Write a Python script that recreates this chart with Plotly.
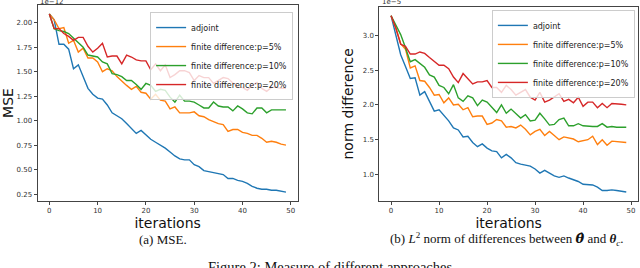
import plotly.graph_objects as go

iterations = list(range(50))

# Left panel: MSE (units of 1e-12)
mse_adjoint = [2.09, 2.03, 1.78, 1.78, 1.73, 1.53, 1.57, 1.44, 1.33, 1.27,
               1.23, 1.22, 1.16, 1.08, 1.05, 1.02, 0.97, 0.92, 0.87, 0.90,
               0.85, 0.81, 0.78, 0.75, 0.72, 0.68, 0.64, 0.61, 0.60, 0.60,
               0.55, 0.53, 0.49, 0.48, 0.47, 0.46, 0.45, 0.41, 0.41, 0.39,
               0.38, 0.36, 0.33, 0.31, 0.30, 0.30, 0.29, 0.29, 0.28, 0.27]
mse_fd5 = [2.09, 2.03, 1.94, 1.95, 1.79, 1.82, 1.70, 1.74, 1.64, 1.64,
           1.60, 1.50, 1.53, 1.51, 1.45, 1.40, 1.36, 1.32, 1.35, 1.29,
           1.28, 1.22, 1.27, 1.21, 1.20, 1.12, 1.14, 1.08, 1.08, 1.08,
           1.09, 1.05, 1.04, 1.01, 0.99, 0.97, 0.96, 0.89, 0.91, 0.91,
           0.88, 0.87, 0.85, 0.85, 0.82, 0.78, 0.79, 0.78, 0.76, 0.75]
mse_fd10 = [2.09, 1.94, 1.92, 1.91, 1.89, 1.84, 1.80, 1.75, 1.67, 1.66,
            1.65, 1.60, 1.58, 1.48, 1.47, 1.45, 1.41, 1.41, 1.37, 1.32,
            1.38, 1.36, 1.30, 1.32, 1.31, 1.24, 1.19, 1.26, 1.20, 1.20,
            1.19, 1.16, 1.13, 1.13, 1.19, 1.15, 1.14, 1.14, 1.10, 1.15,
            1.12, 1.08, 1.07, 1.13, 1.13, 1.08, 1.11, 1.11, 1.11, 1.11]
mse_fd20 = [2.09, 1.94, 1.94, 1.89, 1.86, 1.82, 1.85, 1.85, 1.76, 1.70,
            1.74, 1.79, 1.65, 1.66, 1.66, 1.58, 1.67, 1.65, 1.62, 1.61,
            1.61, 1.52, 1.58, 1.51, 1.57, 1.44, 1.47, 1.51, 1.51, 1.49,
            1.41, 1.46, 1.44, 1.44, 1.38, 1.41, 1.44, 1.43, 1.38, 1.34,
            1.34, 1.31, 1.36, 1.39, 1.33, 1.30, 1.34, 1.34, 1.33, 1.33]

# Right panel: norm difference (units of 1e-5)
nd_adjoint = [3.28, 3.00, 2.72, 2.55, 2.38, 2.39, 2.14, 2.19, 2.05, 1.91,
              1.93, 1.85, 1.77, 1.67, 1.64, 1.54, 1.55, 1.46, 1.40, 1.44,
              1.38, 1.34, 1.33, 1.24, 1.29, 1.24, 1.17, 1.15, 1.13, 1.12,
              1.08, 1.02, 1.06, 1.02, 0.98, 0.96, 0.98, 0.95, 0.93, 0.90,
              0.86, 0.86, 0.85, 0.82, 0.77, 0.77, 0.78, 0.77, 0.76, 0.75]
nd_fd5 = [3.28, 3.10, 2.88, 2.80, 2.53, 2.56, 2.35, 2.34, 2.25, 2.14,
          2.15, 2.03, 2.10, 2.00, 2.01, 1.93, 1.96, 1.83, 1.84, 1.84,
          1.72, 1.74, 1.79, 1.77, 1.68, 1.69, 1.67, 1.71, 1.65, 1.57,
          1.62, 1.65, 1.56, 1.62, 1.56, 1.50, 1.54, 1.52, 1.51, 1.47,
          1.49, 1.50, 1.55, 1.43, 1.50, 1.42, 1.48, 1.47, 1.47, 1.46]
nd_fd10 = [3.28, 3.15, 3.01, 2.82, 2.62, 2.65, 2.59, 2.54, 2.43, 2.40,
           2.28, 2.25, 2.16, 2.29, 2.10, 2.05, 2.13, 2.10, 1.99, 2.07,
           2.04, 1.97, 1.89, 2.00, 1.88, 1.94, 1.87, 1.81, 1.86, 1.77,
           1.78, 1.88, 1.80, 1.71, 1.72, 1.79, 1.81, 1.70, 1.70, 1.73,
           1.70, 1.69, 1.69, 1.69, 1.73, 1.68, 1.69, 1.68, 1.68, 1.68]
nd_fd20 = [3.28, 3.10, 2.87, 2.84, 2.73, 2.73, 2.76, 2.74, 2.68, 2.63,
           2.57, 2.57, 2.52, 2.40, 2.32, 2.45, 2.38, 2.30, 2.33, 2.33,
           2.35, 2.25, 2.25, 2.18, 2.28, 2.22, 2.14, 2.18, 2.22, 2.11,
           2.07, 2.18, 2.04, 2.07, 2.11, 2.16, 2.05, 2.08, 2.03, 2.11,
           1.98, 2.04, 2.04, 1.96, 2.02, 1.96, 2.02, 2.02, 2.01, 2.00]

series_names = ["adjoint", "finite difference:p=5%",
                "finite difference:p=10%", "finite difference:p=20%"]
colors = ["#1f77b4", "#ff7f0e", "#2ca02c", "#d62728"]

x_ticks = [0, 10, 20, 30, 40, 50]
mse_ticks = [0.25, 0.50, 0.75, 1.00, 1.25, 1.50, 1.75, 2.00]
nd_ticks = [1.0, 1.5, 2.0, 2.5, 3.0]

fig = go.Figure()

for name, c, ys in zip(series_names, colors, [mse_adjoint, mse_fd5, mse_fd10, mse_fd20]):
    fig.add_trace(go.Scatter(x=iterations, y=ys, mode="lines", name=name,
                             line=dict(color=c, width=1.4),
                             xaxis="x", yaxis="y", legend="legend"))
for name, c, ys in zip(series_names, colors, [nd_adjoint, nd_fd5, nd_fd10, nd_fd20]):
    fig.add_trace(go.Scatter(x=iterations, y=ys, mode="lines", name=name,
                             line=dict(color=c, width=1.4),
                             xaxis="x2", yaxis="y2", legend="legend2"))

tickfont = dict(family="DejaVu Sans", size=7, color="#333")
titlefont = dict(family="DejaVu Sans", size=14, color="#111")
axis_common = dict(showgrid=False, zeroline=False, showline=True, mirror=True,
                   linecolor="#444", linewidth=1, ticks="outside", ticklen=3,
                   tickwidth=0.8, tickcolor="#444", tickfont=tickfont)

legend_common = dict(xanchor="right", yanchor="top",
                     bgcolor="rgba(255,255,255,0.8)", bordercolor="#ccc", borderwidth=1,
                     font=dict(family="DejaVu Sans", size=8, color="#222"),
                     tracegroupgap=0, itemwidth=30)

fig.update_layout(
    width=640, height=268,
    margin=dict(l=0, r=0, t=0, b=0),
    paper_bgcolor="white", plot_bgcolor="white",
    xaxis=dict(domain=[0.0586, 0.4653], range=[-2.45, 51.45], tickvals=x_ticks,
               title=dict(text="iterations", font=titlefont, standoff=2),
               anchor="y", **axis_common),
    yaxis=dict(domain=[0.25, 0.981], range=[0.18, 2.18], tickvals=mse_ticks,
               tickformat=".2f",
               title=dict(text="MSE", font=titlefont, standoff=1),
               anchor="x", **axis_common),
    xaxis2=dict(domain=[0.5927, 0.9969], range=[-2.45, 51.45], tickvals=x_ticks,
                title=dict(text="iterations", font=titlefont, standoff=2),
                anchor="y2", **axis_common),
    yaxis2=dict(domain=[0.25, 0.975], range=[0.62, 3.41], tickvals=nd_ticks,
                tickformat=".1f",
                title=dict(text="norm difference", font=titlefont, standoff=5),
                anchor="x2", **axis_common),
    legend=dict(x=0.458, y=0.955, **legend_common),
    legend2=dict(x=0.992, y=0.963, **legend_common),
    showlegend=True,
)

annotations = [
    dict(text="1e\u221212", x=0.059, y=1.0, xref="paper", yref="paper",
         xanchor="left", yanchor="bottom", yshift=-8, showarrow=False,
         font=dict(family="DejaVu Sans", size=7, color="#333")),
    dict(text="1e\u22125", x=0.593, y=1.0, xref="paper", yref="paper",
         xanchor="left", yanchor="bottom", yshift=-8, showarrow=False,
         font=dict(family="DejaVu Sans", size=7, color="#333")),
    dict(text="(a) MSE.", x=163 / 640, y=1 - 239 / 268, xref="paper", yref="paper",
         xanchor="center", yanchor="middle", showarrow=False,
         font=dict(family="Liberation Serif", size=13, color="#111")),
    dict(text="(b) <i>L</i><sup>2</sup> norm of differences between "
              "<span style='font-family:DejaVu Serif'><b><i>\u03b8\u0302</i></b></span>"
              " and <b><i>\u03b8</i></b><sub><i>c</i></sub>.",
         x=507 / 640, y=1 - 239 / 268, xref="paper", yref="paper",
         xanchor="center", yanchor="middle", showarrow=False,
         font=dict(family="Liberation Serif", size=13, color="#111")),
    dict(text="Figure 2: Measure of different approaches.", x=332 / 640, y=1 - 257 / 268,
         xref="paper", yref="paper", xanchor="center", yanchor="top", showarrow=False,
         font=dict(family="Liberation Serif", size=14.5, color="#111")),
]
fig.update_layout(annotations=annotations)

fig.write_html("out.html", config={"displayModeBar": False},
               post_script="document.body.style.margin='0';document.body.style.overflow='hidden';")
